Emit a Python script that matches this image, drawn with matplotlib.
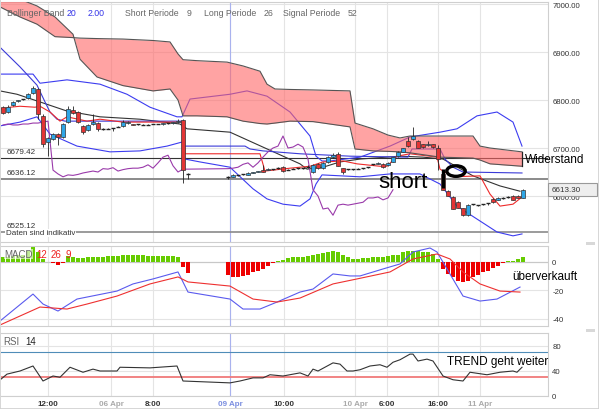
import numpy as np
import matplotlib
matplotlib.use('Agg')
import matplotlib.pyplot as plt
from matplotlib.patches import Rectangle, Ellipse

plt.rcParams['font.family'] = ['Liberation Sans', 'DejaVu Sans']

# ---------------- data ----------------
slots = list(range(0, 38)) + list(range(45, 105))
opens = [6785, 6775, 6790, 6797, 6801, 6804, 6815, 6823, 6767, 6713, 6719, 6729, 6723, 6754, 6779, 6775,
         6746, 6738, 6750, 6752, 6740, 6740, 6741, 6744, 6746, 6752, 6750, 6749, 6748, 6748, 6750, 6750,
         6749, 6751, 6752, 6754, 6758, 6646,
         6640, 6640, 6642, 6644, 6644, 6648, 6650, 6654, 6655, 6656, 6658, 6660, 6655, 6657, 6658, 6658,
         6660, 6650, 6667, 6658, 6671, 6681, 6688, 6658, 6656, 6656, 6657, 6658, 6660, 6665, 6667, 6667,
         6664, 6671, 6683, 6692, 6715, 6719, 6715, 6708, 6706, 6708, 6700, 6646, 6611, 6598, 6588, 6575,
         6560, 6583, 6581, 6583, 6585, 6594, 6592, 6595, 6597, 6600, 6600, 6596]
highs = [6788, 6790, 6798, 6801, 6803, 6814, 6829, 6826, 6770, 6723, 6731, 6731, 6752, 6788, 6788, 6777,
         6748, 6750, 6771, 6754, 6742, 6741, 6742, 6745, 6758, 6756, 6751, 6751, 6749, 6749, 6751, 6751,
         6753, 6753, 6755, 6760, 6760, 6648,
         6642, 6645, 6644, 6646, 6649, 6651, 6653, 6665, 6658, 6657, 6660, 6662, 6656, 6658, 6659, 6659,
         6664, 6666, 6669, 6670, 6683, 6690, 6692, 6659, 6657, 6657, 6658, 6659, 6661, 6667, 6670, 6668,
         6670, 6682, 6693, 6701, 6722, 6744, 6716, 6709, 6715, 6709, 6706, 6648, 6612, 6599, 6590, 6576,
         6583, 6584, 6582, 6584, 6586, 6596, 6597, 6597, 6599, 6602, 6602, 6614]
lows = [6770, 6772, 6788, 6795, 6799, 6803, 6813, 6760, 6702, 6683, 6717, 6706, 6720, 6752, 6771, 6752,
        6729, 6735, 6748, 6735, 6738, 6739, 6735, 6743, 6744, 6750, 6748, 6748, 6747, 6747, 6749, 6749,
        6748, 6750, 6751, 6753, 6627, 6635,
        6635, 6639, 6641, 6643, 6643, 6647, 6649, 6649, 6654, 6655, 6657, 6651, 6654, 6656, 6657, 6657,
        6659, 6648, 6656, 6656, 6669, 6680, 6662, 6646, 6655, 6655, 6656, 6657, 6659, 6664, 6666, 6658,
        6663, 6670, 6682, 6691, 6703, 6717, 6699, 6701, 6705, 6701, 6654, 6612, 6599, 6572, 6574, 6558,
        6558, 6582, 6580, 6582, 6581, 6586, 6591, 6594, 6596, 6591, 6595, 6595]
closes = [6773, 6785, 6796, 6799, 6802, 6812, 6825, 6771, 6708, 6721, 6729, 6723, 6750, 6781, 6773, 6754,
          6733, 6748, 6754, 6740, 6740, 6740, 6741, 6744, 6754, 6755, 6748, 6750, 6748, 6748, 6750, 6750,
          6752, 6752, 6754, 6756, 6654, 6646,
          6640, 6644, 6643, 6645, 6648, 6650, 6652, 6650, 6657, 6656, 6659, 6652, 6655, 6657, 6658, 6658,
          6660, 6665, 6658, 6669, 6681, 6685, 6663, 6650, 6656, 6656, 6657, 6658, 6660, 6666, 6669, 6660,
          6669, 6681, 6692, 6700, 6704, 6725, 6700, 6702, 6708, 6702, 6677, 6613, 6600, 6573, 6575, 6560,
          6581, 6583, 6581, 6583, 6585, 6587, 6596, 6596, 6598, 6592, 6596, 6613]

# Ichimoku cloud edges
cloud_x = [-0.6, 3.4, 6.8, 10.4, 14, 15.4, 18.8, 24, 30, 33.4, 35, 36, 38.8, 44.8, 48, 51.4, 52.8,
           54.4, 57.4, 62, 69.4, 70.4, 74, 77, 79.4, 81.4, 87.4, 94, 95.4, 97.4, 103.8]
cloud_a = [6994, 6973, 6958, 6932, 6930, 6929, 6928, 6927, 6924, 6921, 6896, 6884, 6882, 6879, 6871,
           6860, 6833, 6823, 6822, 6821, 6819, 6752, 6740, 6727, 6721, 6725, 6725, 6725, 6704, 6700, 6692]
cloud_b = [7031, 7010, 6996, 6973, 6937, 6885, 6848, 6830, 6819, 6823, 6800, 6767, 6767, 6765, 6756,
           6751, 6750, 6752, 6756, 6755, 6744, 6698, 6694, 6693, 6692, 6690, 6681, 6679, 6675, 6667, 6662]

sma_x = [-0.6, 2.8, 7.4, 12.8, 19.4, 27.4, 35.4, 36.8, 45.4, 59.4, 60.8, 64, 67.4, 71.4, 79.4, 84, 88,
         94, 99.4, 103.4]
sma_y = [6819, 6812, 6796, 6777, 6765, 6760, 6750, 6740, 6733, 6667, 6656, 6660, 6671, 6677, 6683, 6681,
         6677, 6642, 6621, 6610]

tenkan_x = [-0.6, 1.4, 3.4, 6.4, 7.4, 9.4, 11.4, 12.8, 16.8, 19.4, 24, 36.2, 36.4, 51.4, 52.4, 57.4,
            61.4, 64, 68, 70.8, 75.4, 76.8, 78.8, 81.4, 86.8, 87.4, 90, 95.4, 97.4, 99.4, 102, 103.8]
tenkan_y = [6781, 6785, 6787, 6785, 6787, 6775, 6756, 6765, 6756, 6760, 6754, 6754, 6688, 6688, 6652,
            6658, 6662, 6671, 6673, 6667, 6662, 6662, 6683, 6688, 6681, 6656, 6640, 6642, 6604, 6579,
            6583, 6598]

kijun_x = [-0.6, 3.4, 6.8, 8.4, 9.4, 10.8, 12.4, 35.8, 36, 48.4, 49.4, 52, 59.4, 69.4, 81, 81.8, 87.4,
           88.4, 90, 92, 103.8]
kijun_y = [6910, 6869, 6831, 6796, 6775, 6760, 6756, 6756, 6704, 6704, 6698, 6694, 6688, 6683, 6681,
           6698, 6698, 6677, 6660, 6650, 6648]

bb_up_x = [-0.6, 6, 7.4, 12.8, 19.4, 24.8, 29.4, 34.8, 35.8, 37.4, 45.4, 48.8, 52.8, 57.4, 61.4, 62.6,
           63.8, 65.4, 71.4, 77.4, 81.4, 87.4, 90.8, 94.8, 98.8, 102, 103.8]
bb_up_y = [6854, 6854, 6835, 6842, 6833, 6812, 6785, 6765, 6765, 6802, 6812, 6819, 6808, 6775, 6725,
           6683, 6673, 6673, 6681, 6704, 6723, 6733, 6740, 6767, 6775, 6754, 6704]
bb_lo_x = [-0.6, 3.4, 6.8, 9.4, 14.8, 21.4, 27.4, 32.8, 36, 36.4, 39.4, 45.4, 50, 52.8, 56, 59.4, 61.4,
           62.6, 63.8, 71.4, 77.4, 83.4, 87.4, 90.8, 94.8, 98.8, 102, 103.8]
bb_lo_y = [6746, 6754, 6765, 6729, 6704, 6692, 6694, 6704, 6713, 6677, 6671, 6660, 6615, 6594, 6583,
           6579, 6594, 6625, 6644, 6640, 6646, 6646, 6625, 6579, 6552, 6525, 6517, 6521]

macd_hist = [3, 3.5, 4, 4.5, 5, 7.5, 10.8, 7, 1.9, -0.5, -0.8, -2, -0.8, 4.2, 3.5, 2.5, 2.5, 3, 3.5,
             3.5, 3.5, 3.8, 3.8, 4, 4.5, 4.7, 4.7, 4.5, 4.5, 4.2, 4, 3.8, 3.8, 3.8, 3.8, 3.5, -4, -8,
             -9.3, -10.9, -10.9, -10.3, -9.3, -7.5, -6.3, -5.1, -2.8, -0.9, 0.3, 1.5, 2.5, 3, 3,
             3, 4.2, 4.7, 5.4, 6.1, 7, 7.7, 6.5, 4.5, 3, 2, 1.9, 2.3, 2.8, 3, 3, 3.5, 4, 4.5, 5, 6.5,
             7.5, 7.8, 7.5, 7, 6.8, 5.5, 2, -5.1, -8.6, -11, -13.3, -14.5, -13.5, -11, -9.4, -7.5,
             -6.3, -4.7, -2.8, -1, 0.5, 0.8, 1.9, 3]
macd_x = [-0.6, 6, 8, 11, 14.8, 16.8, 22.8, 26, 30, 35, 37, 45.4, 48, 51.4, 54.8, 59.4, 62, 66, 69.4,
          71.4, 76, 79.4, 82, 85.4, 86.8, 88.8, 92, 95.4, 98.8, 103.4]
macd_y = [-41.6, -22.7, -29.7, -34.6, -26.2, -24.8, -20.6, -15.6, -12.1, -7.2, -21.3, -26.2, -33.2,
          -33.2, -28.3, -21.3, -19.2, -8.6, -10, -10, -5.1, -1.6, 6.8, 9.6, 6.8, -5.1, -24.1, -27.6,
          -26.2, -17.8]
signal_x = [-0.6, 3.4, 7.4, 12.8, 16.8, 22.8, 29.4, 35, 37, 45.4, 50, 54.8, 59.4, 66, 70.8, 77.4, 82,
            86.8, 89.4, 92, 95.4, 99.4, 103.4]
signal_y = [-44.4, -38.1, -31.8, -33.2, -29.7, -24.1, -15.6, -10.7, -14.2, -17.1, -26.2, -28.3, -25.5,
            -15.6, -12.1, -7.2, 1.9, 5.4, 1.9, -7.2, -15.6, -20.6, -21.3]

rsi_x = [-0.4, 0.8, 3.4, 6, 8, 10, 11.4, 13.4, 16, 18, 19.4, 22.8, 23.4, 29.4, 34.8, 36, 45.4, 47.4,
         50, 52, 53.4, 56, 59.4, 61, 62, 63, 66, 67.4, 68.8, 70, 71.4, 73.4, 75.4, 76.8, 78, 79.4,
         81.4, 82, 83, 84.8, 86, 88, 90, 92, 93.4, 96.8, 99.4, 102, 102.8, 103.8]
rsi_y = [27, 35, 40, 48, 24, 32, 30, 46, 38, 43, 40, 40, 46, 45, 48, 24, 21, 24, 29, 29, 34, 32, 37,
         32, 43, 40, 53, 51, 40, 40, 42, 48, 50, 46, 54, 58, 67, 67, 56, 59, 56, 32, 26, 24, 38, 34,
         38, 40, 38, 46]

levels = [6679.42, 6636.12, 6525.12]
level_labels = ['6679.42', '6636.12', '6525.12']
price_ticks = [7000, 6900, 6800, 6700, 6600]
price_ticklabels = ['7000.00', '6900.00', '6800.00', '6700.00', '6600.00']
last_price = '6613.30'
time_ticks = [9, 21.6, 30, 45.4, 56.2, 70.4, 76.8, 87, 95.4]
time_labels = ['12:00', '06 Apr', '8:00', '09 Apr', '10:00', '10 Apr', '6:00', '16:00', '11 Apr']
time_label_colors = ['#333333', '#aaaaaa', '#333333', '#7b8ee0', '#333333', '#aaaaaa', '#333333',
                     '#333333', '#aaaaaa']
macd_ticks = [0, -20, -40]
rsi_ticks = [80, 40, 0]

# ---------------- layout ----------------
W, H = 599, 410
fig = plt.figure(figsize=(W / 100, H / 100), dpi=100)


def frame(x0, y0, x1, y1):
    return [x0 / W, 1 - y1 / H, (x1 - x0) / W, (y1 - y0) / H]


def fx(px):
    return px / W


def fy(py):
    return 1 - py / H


ax = fig.add_axes(frame(1, 3, 548, 243))
axm = fig.add_axes(frame(1, 247, 548, 327))
axr = fig.add_axes(frame(1, 334, 548, 397))

XL = (-0.4, 109)
GRID = '#e4e4e4'
for a in (ax, axm, axr):
    a.set_xlim(*XL)
    for s in a.spines.values():
        s.set_color('#cfcfcf')
        s.set_linewidth(0.8)
    a.spines['left'].set_visible(False)
    for t in time_ticks:
        a.axvline(t, color=GRID, lw=0.8, zorder=0)
    a.axvline(time_ticks[3], color='#a9b2ee', lw=0.8, zorder=0.5)
    a.yaxis.tick_right()
    a.tick_params(axis='y', length=0, pad=3, labelsize=5.6, colors='#333333')
    a.tick_params(axis='x', length=0)
    a.set_xticks([])

# ---- main price panel ----
ax.set_ylim(6504.2, 7004.2)
ax.set_yticks(price_ticks)
ax.set_yticklabels(price_ticklabels)
for p in price_ticks:
    ax.axhline(p, color=GRID, lw=0.8, zorder=0)

ax.axhline(levels[0], color='#333333', lw=0.8, zorder=2)
ax.axhline(levels[1], color='#8a8a8a', lw=1.4, zorder=2)
ax.axhline(levels[2], color='#8a8a8a', lw=1.2, zorder=2)

ax.plot(sma_x, sma_y, color='#333333', lw=0.8, zorder=3)
ax.plot(bb_up_x, bb_up_y, color='#3c3cf0', lw=0.8, zorder=3)
ax.plot(bb_lo_x, bb_lo_y, color='#3c3cf0', lw=0.8, zorder=3)
ax.plot(kijun_x, kijun_y, color='#3a3ad8', lw=0.8, zorder=3)
ax.plot(tenkan_x, tenkan_y, color='#ee2a2a', lw=0.8, zorder=3)
# lagging span: closes shifted back 26 candles
ax.plot(slots[:-26], closes[26:], color='#9a3aaa', lw=0.8, zorder=3)

# translucent cloud drawn over the indicator lines
ax.fill_between(cloud_x, cloud_a, cloud_b, color='#ff6666', alpha=0.6, lw=0, zorder=3.5)
ax.plot(cloud_x, cloud_a, color='#555555', lw=0.8, zorder=3.6)
ax.plot(cloud_x, cloud_b, color='#555555', lw=0.8, zorder=3.6)
ax.plot([cloud_x[-1], cloud_x[-1]], [cloud_a[-1], cloud_b[-1]], color='#222222', lw=0.9, zorder=3.6)

# candles
UP, DN = '#2ea6e6', '#e33535'
for s, o, h, l, c in zip(slots, opens, highs, lows, closes):
    ax.vlines(s, l, h, color='#222222', lw=0.6, zorder=4)
    if abs(c - o) <= 1.5:
        ax.hlines(c, s - 0.4, s + 0.4, color='#222222', lw=1.0, zorder=5)
    else:
        ax.add_patch(Rectangle((s - 0.36, min(o, c)), 0.72, abs(c - o),
                               facecolor=UP if c > o else DN, edgecolor='#333333', lw=0.5,
                               zorder=5))

# annotations in the price panel
ax.plot([88, 88], [6656, 6617], color='black', lw=2.4, zorder=6, solid_capstyle='butt')
ax.add_patch(Ellipse((90.6, 6652), 3.7, 22, fill=False, edgecolor='black', lw=2.4, zorder=6))

# ---- MACD panel ----
axm.set_ylim(-45.1, 11.0)
axm.set_yticks(macd_ticks)
axm.set_yticklabels([str(v) for v in macd_ticks])
axm.axhline(0, color='#c8c8c8', lw=0.9, zorder=0)
for v in macd_ticks[1:]:
    axm.axhline(v, color=GRID, lw=0.8, zorder=0)
axm.bar(slots, macd_hist, width=0.72,
        color=['#66cc00' if v >= 0 else '#ee0000' for v in macd_hist], zorder=2)
axm.plot(macd_x, macd_y, color='#5a5aee', lw=0.8, zorder=3)
axm.plot(signal_x, signal_y, color='#ee3030', lw=0.8, zorder=3)

# ---- RSI panel ----
axr.set_ylim(0, 100.8)
axr.set_yticks(rsi_ticks)
axr.set_yticklabels([str(v) for v in rsi_ticks])
for v in rsi_ticks:
    axr.axhline(v, color=GRID, lw=0.8, zorder=0)
axr.axhline(70, color='#4f8db8', lw=0.8, zorder=1)
axr.axhline(30, color='#f07a7a', lw=1.3, zorder=1)
axr.plot(rsi_x, rsi_y, color='#333333', lw=0.8, zorder=3)
axr.set_xticks(time_ticks)
axr.set_xticklabels(time_labels, fontsize=5.8, fontweight='bold')
axr.tick_params(axis='x', pad=3)
for lab, col in zip(axr.get_xticklabels(), time_label_colors):
    lab.set_color(col)

# ---- texts ----
leg = [(7, 'Bollinger Band', '#666666'), (67, '20', '#3434e8'), (88, '2.00', '#3434e8'),
       (125, 'Short Periode', '#666666'), (187, '9', '#666666'), (204, 'Long Periode', '#666666'),
       (264, '26', '#666666'), (283, 'Signal Periode', '#666666'), (348, '52', '#666666')]
for x, t, c in leg:
    fig.text(fx(x), fy(13), t, color=c, fontsize=6.3, va='center', ha='left', zorder=10)

for lab, ypx in zip(level_labels, [153, 174, 227]):
    fig.text(fx(7), fy(ypx), lab, color='#333333', fontsize=5.8, va='center')
fig.text(fx(6), fy(234), 'Daten sind indikativ', color='#333333', fontsize=5.8, va='center',
         bbox=dict(facecolor='white', edgecolor='none', pad=0.6))

fig.text(fx(378), fy(188), 'short', fontsize=16, color='black', va='baseline')
fig.text(fx(525), fy(160), 'Widerstand', fontsize=8.5, color='black', va='center')

fig.patches.append(Rectangle((fx(548), fy(197)), (597 - 548) / W, 13 / H, transform=fig.transFigure,
                             facecolor='#eeeeee', edgecolor='#999999', lw=0.8, zorder=8))
fig.text(fx(552), fy(190.5), last_price, fontsize=5.8, color='#333333', va='center', zorder=9)

fig.text(fx(4), fy(255), 'MACD', fontsize=7, color='#666666', va='center',
         bbox=dict(facecolor='white', edgecolor='none', pad=0.3, alpha=0.6))
fig.text(fx(36), fy(255), '12', fontsize=7, color='#ee2222', va='center')
fig.text(fx(51), fy(255), '26', fontsize=7, color='#ee2222', va='center')
fig.text(fx(66), fy(255), '9', fontsize=7, color='#ee2222', va='center')
fig.text(fx(512), fy(277), 'überverkauft', fontsize=8.5, color='black', va='center')

fig.text(fx(3), fy(342), 'RSI', fontsize=7, color='#666666', va='center')
fig.text(fx(25), fy(342), '14', fontsize=7, color='#222222', va='center')
fig.text(fx(447), fy(362), 'TREND geht weiter', fontsize=8.5, color='black', va='center')

# panel resize handles and outer frame
for ypx in (244, 331):
    fig.patches.append(Rectangle((fx(586), fy(ypx + 2)), 9 / W, 3 / H, transform=fig.transFigure,
                                 facecolor='#d8d8d8', edgecolor='none', zorder=8))
fig.patches.append(Rectangle((0, 0), 1, 1, transform=fig.transFigure, fill=False,
                             edgecolor='#d0d0d0', lw=1.2, zorder=9))

fig.savefig('out.png', dpi=100)
